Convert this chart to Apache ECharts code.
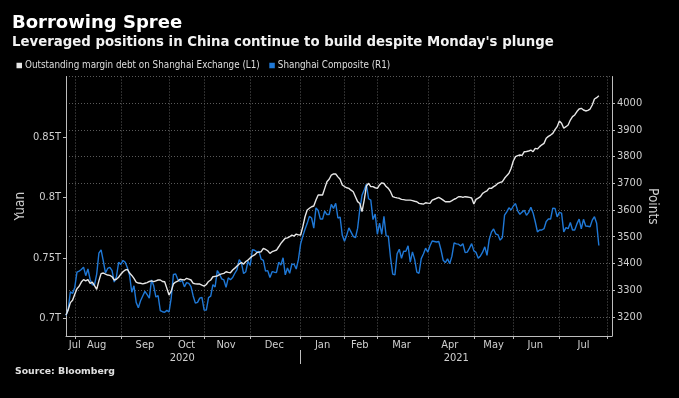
<!DOCTYPE html>
<html>
<head>
<meta charset="utf-8">
<script src="https://cdn.jsdelivr.net/npm/echarts@6/dist/echarts.min.js"></script>
<style>
  html, body { margin: 0; padding: 0; background: #000; }
  #chart { width: 679px; height: 398px; }
</style>
</head>
<body>
<div id="chart"></div>
<script>
// trading calendar (Shanghai exchange), Jul 27 2020 .. Aug 3 2021
const firstDay = "2020-07-27";
const lastDay = "2021-08-03";
const holidays = [
  "2020-10-01", "2020-10-02", "2020-10-05", "2020-10-06", "2020-10-07", "2020-10-08",
  "2021-01-01",
  "2021-02-11", "2021-02-12", "2021-02-15", "2021-02-16", "2021-02-17",
  "2021-04-05",
  "2021-05-03", "2021-05-04", "2021-05-05",
  "2021-06-14",
];
const monthNames = ["Jan", "Feb", "Mar", "Apr", "May", "Jun", "Jul", "Aug", "Sep", "Oct", "Nov", "Dec"];

// Outstanding margin debt, trillion yuan (L1)
const marginDebt = [
  0.7027, 0.707, 0.713, 0.715, 0.720, 0.7245, 0.7265, 0.730, 0.732, 0.731,
  0.732, 0.729, 0.730, 0.727, 0.724, 0.731, 0.737, 0.7375, 0.7365, 0.7358,
  0.7355, 0.7344, 0.7317, 0.7323, 0.734, 0.7365, 0.7385, 0.740, 0.7405, 0.7375,
  0.7355, 0.733, 0.730, 0.7292, 0.729, 0.7285, 0.729, 0.7295, 0.7305, 0.731,
  0.7303, 0.731, 0.7317, 0.7317, 0.7305, 0.7303, 0.7248, 0.7193, 0.7225, 0.7285,
  0.730, 0.7308, 0.7323, 0.732, 0.7317, 0.7331, 0.7325, 0.7317, 0.729, 0.7285,
  0.7284, 0.7284, 0.7275, 0.7267, 0.728, 0.7305, 0.7317, 0.7344, 0.7347, 0.735,
  0.7362, 0.7368, 0.7372, 0.7385, 0.738, 0.7377, 0.740, 0.7415, 0.7433, 0.745,
  0.746, 0.7449, 0.747, 0.7482, 0.750, 0.7515, 0.7524, 0.7543, 0.7548, 0.7551,
  0.7579, 0.757, 0.7559, 0.7537, 0.7551, 0.7558, 0.7565, 0.7592, 0.762, 0.7642,
  0.7662, 0.7665, 0.7675, 0.7689, 0.768, 0.7697, 0.769, 0.7689, 0.7758, 0.784,
  0.7896, 0.791, 0.7923, 0.7929, 0.7978, 0.802, 0.802, 0.802, 0.8075, 0.813,
  0.815, 0.8185, 0.8194, 0.8194, 0.817, 0.815, 0.8103, 0.809, 0.808, 0.8075,
  0.806, 0.8047, 0.8006, 0.7965, 0.795, 0.7882, 0.7978, 0.8094, 0.8117, 0.8089,
  0.8089, 0.808, 0.8075, 0.8103, 0.8121, 0.8115, 0.809, 0.8075, 0.8047, 0.8006,
  0.800, 0.7996, 0.7993, 0.7984, 0.7982, 0.7978, 0.7978, 0.7978, 0.7973, 0.7968,
  0.7964, 0.7951, 0.7948, 0.7945, 0.7956, 0.7953, 0.7951, 0.7978, 0.7985, 0.7993,
  0.800, 0.799, 0.7978, 0.7964, 0.7964, 0.7964, 0.7973, 0.7985, 0.7993, 0.8006,
  0.8006, 0.800, 0.8006, 0.8003, 0.800, 0.7995, 0.7945, 0.7984, 0.7995, 0.8006,
  0.8034, 0.8045, 0.8055, 0.8077, 0.8075, 0.8089, 0.810, 0.8117, 0.8125, 0.813,
  0.8158, 0.818, 0.820, 0.8241, 0.8301, 0.8337, 0.8345, 0.8351, 0.8348, 0.8378,
  0.838, 0.8384, 0.8392, 0.8378, 0.8406, 0.8401, 0.842, 0.8435, 0.8447, 0.8489,
  0.8505, 0.8516, 0.853, 0.856, 0.8585, 0.8632, 0.8613, 0.8572, 0.8585, 0.8599,
  0.864, 0.8668, 0.8682, 0.871, 0.8731, 0.8737, 0.8723, 0.8715, 0.872, 0.8731,
  0.8764, 0.8814, 0.8825, 0.8841,
];

// Shanghai Composite, points (R1)
const shanghaiComposite = [
  3205, 3228, 3294, 3287, 3310, 3367, 3371, 3377, 3386, 3354,
  3379, 3340, 3320, 3320, 3360, 3438, 3451, 3409, 3364, 3381,
  3385, 3373, 3330, 3350, 3404, 3396, 3411, 3404, 3384, 3355,
  3292, 3316, 3254, 3234, 3260, 3278, 3295, 3283, 3270, 3338,
  3316, 3274, 3279, 3223, 3219, 3217, 3224, 3218, 3272, 3359,
  3360, 3340, 3332, 3336, 3312, 3328, 3325, 3313, 3278, 3251,
  3254, 3270, 3273, 3225, 3225, 3272, 3277, 3320, 3312, 3373,
  3360, 3342, 3338, 3310, 3346, 3339, 3347, 3363, 3377, 3414,
  3402, 3362, 3369, 3408, 3392, 3451, 3449, 3443, 3445, 3416,
  3411, 3371, 3373, 3347, 3369, 3367, 3366, 3404, 3394, 3421,
  3357, 3383, 3363, 3397, 3397, 3379, 3415, 3473, 3502, 3528,
  3550, 3576, 3570, 3532, 3608, 3598, 3566, 3566, 3596, 3583,
  3583, 3621, 3606, 3625, 3570, 3573, 3505, 3483, 3505, 3533,
  3517, 3501, 3496, 3532, 3603, 3655, 3675, 3696, 3642, 3637,
  3564, 3585, 3509, 3551, 3509, 3576, 3503, 3502, 3421, 3360,
  3357, 3436, 3453, 3419, 3446, 3445, 3466, 3405, 3443, 3415,
  3367, 3363, 3418, 3435, 3457, 3442, 3466, 3484, 3482, 3480,
  3482, 3451, 3412, 3403, 3417, 3399, 3427, 3477, 3473, 3472,
  3465, 3474, 3441, 3442, 3457, 3474, 3447, 3441, 3419, 3428,
  3442, 3462, 3430, 3490, 3517, 3529, 3510, 3507, 3487, 3497,
  3581, 3593, 3608, 3600, 3615, 3624, 3597, 3584, 3592, 3599,
  3580, 3591, 3610, 3589, 3556, 3518, 3525, 3525, 3530, 3557,
  3566, 3566, 3607, 3606, 3574, 3591, 3588, 3518, 3534, 3530,
  3553, 3525, 3525, 3548, 3566, 3529, 3565, 3540, 3539, 3537,
  3562, 3575, 3550, 3467,
];

const FONT = '"DejaVu Sans Condensed", "DejaVu Sans", sans-serif';
const BOLD = '"DejaVu Sans", sans-serif';
const TEXT = "#cfcfcf";
const AXIS = "#bdbdbd";
const GRID = "#5a5a5a";

function tradingDays() {
  const out = [];
  const d = new Date(firstDay + "T00:00:00Z");
  const end = new Date(lastDay + "T00:00:00Z");
  while (d <= end) {
    const s = d.toISOString().slice(0, 10);
    const wd = d.getUTCDay();
    if (wd !== 0 && wd !== 6 && !holidays.includes(s)) out.push(s);
    d.setUTCDate(d.getUTCDate() + 1);
  }
  return out;
}
const dates = tradingDays();

// month boundaries sit on the last trading day of each month
const monthEnds = [];
for (let i = 0; i < dates.length - 1; i++) {
  if (dates[i].slice(5, 7) !== dates[i + 1].slice(5, 7)) monthEnds.push(i);
}
const monthLabelAt = {};
monthEnds.forEach((end, k) => {
  const at = k === 0 ? end : Math.floor((monthEnds[k - 1] + end) / 2);
  monthLabelAt[at] = monthNames[+dates[end].slice(5, 7) - 1];
});
const yearEnd = dates.findIndex((d, i) => i > 0 && d.slice(0, 4) !== dates[i - 1].slice(0, 4)) - 1;
const yearLabelAt = {};
yearLabelAt[Math.floor(yearEnd / 2)] = dates[0].slice(0, 4);
yearLabelAt[Math.floor((yearEnd + dates.length - 1) / 2)] = dates[dates.length - 1].slice(0, 4);

const chart = echarts.init(document.getElementById("chart"));
chart.setOption({
  backgroundColor: "#000",
  animation: false,
  title: [
    {
      text: "Borrowing Spree",
      left: 12, top: 14, padding: 0,
      textStyle: { color: "#fff", fontSize: 18, fontWeight: "bold", fontFamily: BOLD },
    },
    {
      text: "Leveraged positions in China continue to build despite Monday's plunge",
      left: 12, top: 36, padding: 0,
      textStyle: { color: "#f2f2f2", fontSize: 13.3, fontWeight: "bold", fontFamily: BOLD },
    },
    {
      text: "Source: Bloomberg",
      left: 15, top: 367, padding: 0,
      textStyle: { color: "#e0e0e0", fontSize: 9.3, fontWeight: "bold", fontFamily: BOLD },
    },
  ],
  legend: {
    left: 16.5, top: 60.5, padding: 0,
    icon: "rect", itemWidth: 5.5, itemHeight: 5.5, itemGap: 9.5,
    selectedMode: false,
    textStyle: { color: "#dedede", fontSize: 9.8, fontFamily: FONT, padding: [0, 0, 0, -2] },
    data: ["Outstanding margin debt on Shanghai Exchange (L1)", "Shanghai Composite (R1)"],
  },
  grid: { left: 66, right: 67, top: 76.5, bottom: 62 },
  xAxis: [
    {
      type: "category",
      data: dates,
      boundaryGap: false,
      axisLine: { lineStyle: { color: AXIS } },
      axisTick: {
        length: 3,
        interval: (i) => monthEnds.includes(i),
        lineStyle: { color: AXIS },
      },
      axisLabel: {
        interval: (i) => i in monthLabelAt,
        formatter: (v, i) => monthLabelAt[i] || "",
        color: TEXT, fontSize: 11, fontFamily: FONT, margin: 3.5,
      },
      splitLine: {
        show: true,
        interval: (i) => monthEnds.includes(i),
        lineStyle: { color: GRID, type: [1, 2] },
      },
    },
    {
      type: "category",
      data: dates,
      boundaryGap: false,
      position: "bottom",
      offset: 14,
      axisLine: { show: false },
      axisTick: {
        show: true, length: 14,
        interval: (i) => i === yearEnd,
        lineStyle: { color: AXIS },
      },
      axisLabel: {
        interval: (i) => i in yearLabelAt,
        formatter: (v, i) => yearLabelAt[i] || "",
        color: TEXT, fontSize: 11, fontFamily: FONT, margin: 2.5,
      },
      splitLine: { show: false },
    },
  ],
  yAxis: [
    {
      type: "value",
      position: "left",
      min: 0.6854, max: 0.9, splitNumber: 5,
      name: "Yuan", nameLocation: "middle", nameGap: 39, nameMoveOverlap: false,
      nameTextStyle: { color: TEXT, fontSize: 13.5, fontFamily: FONT },
      axisLine: { show: true, lineStyle: { color: AXIS } },
      axisTick: { show: true, length: 3, lineStyle: { color: AXIS } },
      axisLabel: {
        color: TEXT, fontSize: 11, fontFamily: FONT, margin: 5,
        showMinLabel: false, showMaxLabel: false,
        formatter: (v) => Math.round(v * 100) / 100 + "T",
      },
      splitLine: { show: false },
    },
    {
      type: "value",
      position: "right",
      min: 3128, max: 4100, splitNumber: 10,
      name: "Points", nameLocation: "middle", nameGap: 33, nameRotate: -90, nameMoveOverlap: false,
      nameTextStyle: { color: TEXT, fontSize: 13.5, fontFamily: FONT },
      axisLine: { show: true, lineStyle: { color: AXIS } },
      axisTick: { show: true, length: 3, lineStyle: { color: AXIS } },
      axisLabel: {
        color: TEXT, fontSize: 11, fontFamily: FONT, margin: 5,
        showMinLabel: false, showMaxLabel: false,
        formatter: (v) => String(Math.round(v)),
      },
      splitLine: { show: true, lineStyle: { color: GRID, type: [1, 2] } },
    },
  ],
  series: [
    {
      name: "Shanghai Composite (R1)",
      type: "line",
      yAxisIndex: 1,
      data: shanghaiComposite,
      showSymbol: false,
      color: "#1f78d6",
      lineStyle: { width: 1.4 },
    },
    {
      name: "Outstanding margin debt on Shanghai Exchange (L1)",
      type: "line",
      yAxisIndex: 0,
      data: marginDebt,
      showSymbol: false,
      color: "#e6e6e6",
      lineStyle: { width: 1.4 },
    },
  ],
});
</script>
</body>
</html>
